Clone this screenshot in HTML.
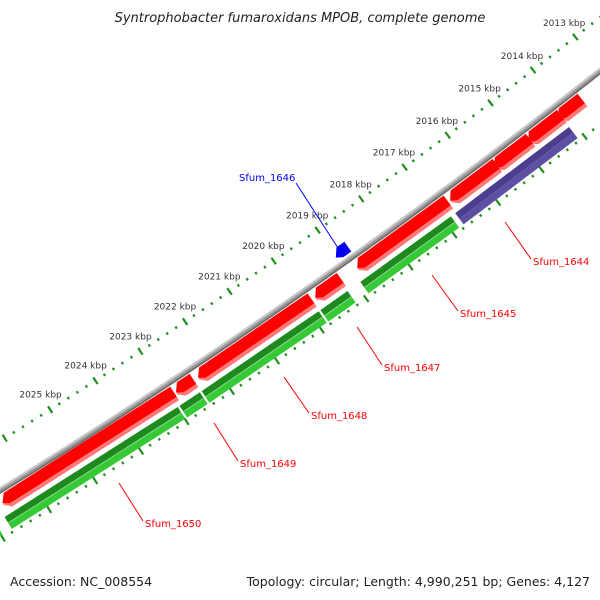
<!DOCTYPE html>
<html><head><meta charset="utf-8"><style>
html,body{margin:0;padding:0;background:#fff}
svg{display:block}
text{font-family:"DejaVu Sans","Liberation Sans",sans-serif}
</style></head><body>
<svg id="map" width="600" height="600" viewBox="0 0 600 600" xmlns="http://www.w3.org/2000/svg">
<rect width="600" height="600" fill="#fff"/>
<text x="300" y="22" text-anchor="middle" font-size="13" font-style="italic" fill="#222">Syntrophobacter fumaroxidans MPOB, complete genome</text>
<g id="ticks"></g>
<g id="backbone"></g>
<g id="features"></g>
<g id="labels"></g>
<text x="10" y="586" font-size="12.5" fill="#222">Accession: NC_008554</text>
<text x="590" y="586" text-anchor="end" font-size="12.5" fill="#222">Topology: circular; Length: 4,990,251 bp; Genes: 4,127</text>
</svg>
<script>
// data (kbp positions)
const tickLabelsK = [2013,2014,2015,2016,2017,2018,2019,2020,2021,2022,2023,2024,2025];
const featStart = [2013.62,2014.10,2014.83,2015.60,2016.73,2019.17,2019.83,2022.47,2022.90,2026.85, 2014.12,2016.85,2019.20,2019.85,2022.50,2022.99,2026.97, 2018.72];
const featEnd   = [2014.18,2014.88,2015.67,2016.69,2018.81,2019.76,2022.38,2022.87,2026.67,2027.80, 2016.75,2018.91,2019.81,2022.46,2022.95,2026.77,2027.80, 2019.02];
const featTrack = ['f','f','f','f','f','f','f','f','f','f','r','r','r','r','r','r','r','b'];
const featType  = ['cds','cds','cds','cds','cds','cds','cds','cds','cds','cds','other','cds','cds','cds','cds','cds','cds','blue'];
const labelNames = ['Sfum_1644','Sfum_1645','Sfum_1647','Sfum_1648','Sfum_1649','Sfum_1650','Sfum_1646'];
const labelK = [2015.9,2017.8,2019.5,2021.1,2022.7,2024.8,2018.87];

const NS='http://www.w3.org/2000/svg';
const CX=-3271, CY=-4827;
const RT=6201, RB=6243;
function ang(k){return (54.64+(k-2019)*0.496)*Math.PI/180;}
function pt(k,r){const a=ang(k);return [CX+r*Math.cos(a),CY+r*Math.sin(a)];}
function mk(tag,attrs,parent){const e=document.createElementNS(NS,tag);for(const a in attrs)e.setAttribute(a,attrs[a]);parent.appendChild(e);return e;}
function band(k1,k2,r1,r2){const a=pt(k1,r1),b=pt(k2,r1),c=pt(k2,r2),d=pt(k1,r2);return [a,b,c,d].map(p=>p.join(',')).join(' ');}
function arc(k1,k2,r1,r2){const pts=[];const n=24;for(let i=0;i<=n;i++)pts.push(pt(k1+(k2-k1)*i/n,r1));for(let i=n;i>=0;i--)pts.push(pt(k1+(k2-k1)*i/n,r2));return pts.map(p=>p.join(',')).join(' ');}

// ticks
const tg=document.getElementById('ticks');
[RT,RB+42].forEach((R,ri)=>{
  for(let i=2011*5;i<=2028*5;i++){
    const k=i/5, major=(i%5===0);
    const h=major?4:1.3;
    const p1=pt(k,R-h),p2=pt(k,R+h);
    const t=mk('line',{x1:p1[0],y1:p1[1],x2:p2[0],y2:p2[1],stroke:'#1f8f1f','stroke-width':2.2},tg);
    
    
  }
});
tickLabelsK.forEach(k=>{
  const p=pt(k,RT-18);
  const t=mk('text',{x:p[0],y:p[1]+3,'text-anchor':'middle','font-size':'9',fill:'#333'},tg);
  t.textContent=k+' kbp';
  
  
});

// backbone
const bg=document.getElementById('backbone');
[[RB-3,RB-1,'#c8c8c8'],[RB-1,RB+1,'#9a9a9a'],[RB+1,RB+3,'#707070']].forEach(s=>{
  const pl=mk('polygon',{points:arc(2010,2029,s[0],s[1]),fill:s[2]},bg);
  
  
});

// features
const fg=document.getElementById('features');
function arrowPoly(k1,k2,r1,r2){ // tip at high-k end
  const kt=Math.max(k1,k2), kl=Math.min(k1,k2), head=0.12;
  const rm=(r1+r2)/2;
  const pts=[pt(kl,r1),pt(kt-head,r1),pt(kt,rm+2),pt(kt-head,r2),pt(kl,r2)];
  return pts.map(p=>p.join(',')).join(' ');
}
const RF1=RB+4, RF2=RB+20, RR1=RB+25, RR2=RB+39;
for(let i=0;i<featStart.length;i++){
  const s=featStart[i], e=featEnd[i], tr=featTrack[i];
  const g=mk('g',{},fg);
  
  
  if(tr==='f'){
    mk('polygon',{points:arrowPoly(s,e,RF1,RF2),fill:'#ff7777'},g);
    mk('polygon',{points:arrowPoly(s,e,RF1,RF2-4),fill:'#ff0000'},g);
  } else if(tr==='r'){
    const rm=(RR1+RR2)/2;
    if(featType[i]==='other'){
      mk('polygon',{points:band(s,e,RR1,rm),fill:'#4a3f8e'},g);
      mk('polygon',{points:band(s,e,rm,RR2),fill:'#5c50a4'},g);
    } else {
      mk('polygon',{points:band(s,e,RR1,rm),fill:'#1e8a1e'},g);
      mk('polygon',{points:band(s,e,rm,RR2),fill:'#36c936'},g);
      mk('polygon',{points:band(s,e,rm-0.5,rm+0.5),fill:'#8fd68f'},g);
    }
  } else {
    mk('polygon',{points:arrowPoly(s,e,RB-17,RB-5),fill:'#0000ee'},g);
  }
}

// labels
const lg=document.getElementById('labels');
const lblPos=[[533,265,505,222],[460,317,432,275],[384,371,357,327],[311,419,284,377],[240,467,214,423],[145,527,119,483],[239,181,296,183]];
labelNames.forEach((n,i)=>{
  const L=lblPos[i], blue=(i===6);
  const col=blue?'#0000ff':'#ff0000';
  let x1,y1,x2,y2;
  if(blue){x1=296;y1=183;x2=338;y2=248;}else{x1=L[2];y1=L[3];x2=L[0]-2;y2=L[1]-6;}
  const ln=mk('line',{x1:x1,y1:y1,x2:x2,y2:y2,stroke:col,'stroke-width':1},lg);
  
  
  const t=mk('text',{x:L[0],y:L[1],'font-size':'10',fill:col},lg);
  t.textContent=n;
  
  
});
</script>
</body></html>
